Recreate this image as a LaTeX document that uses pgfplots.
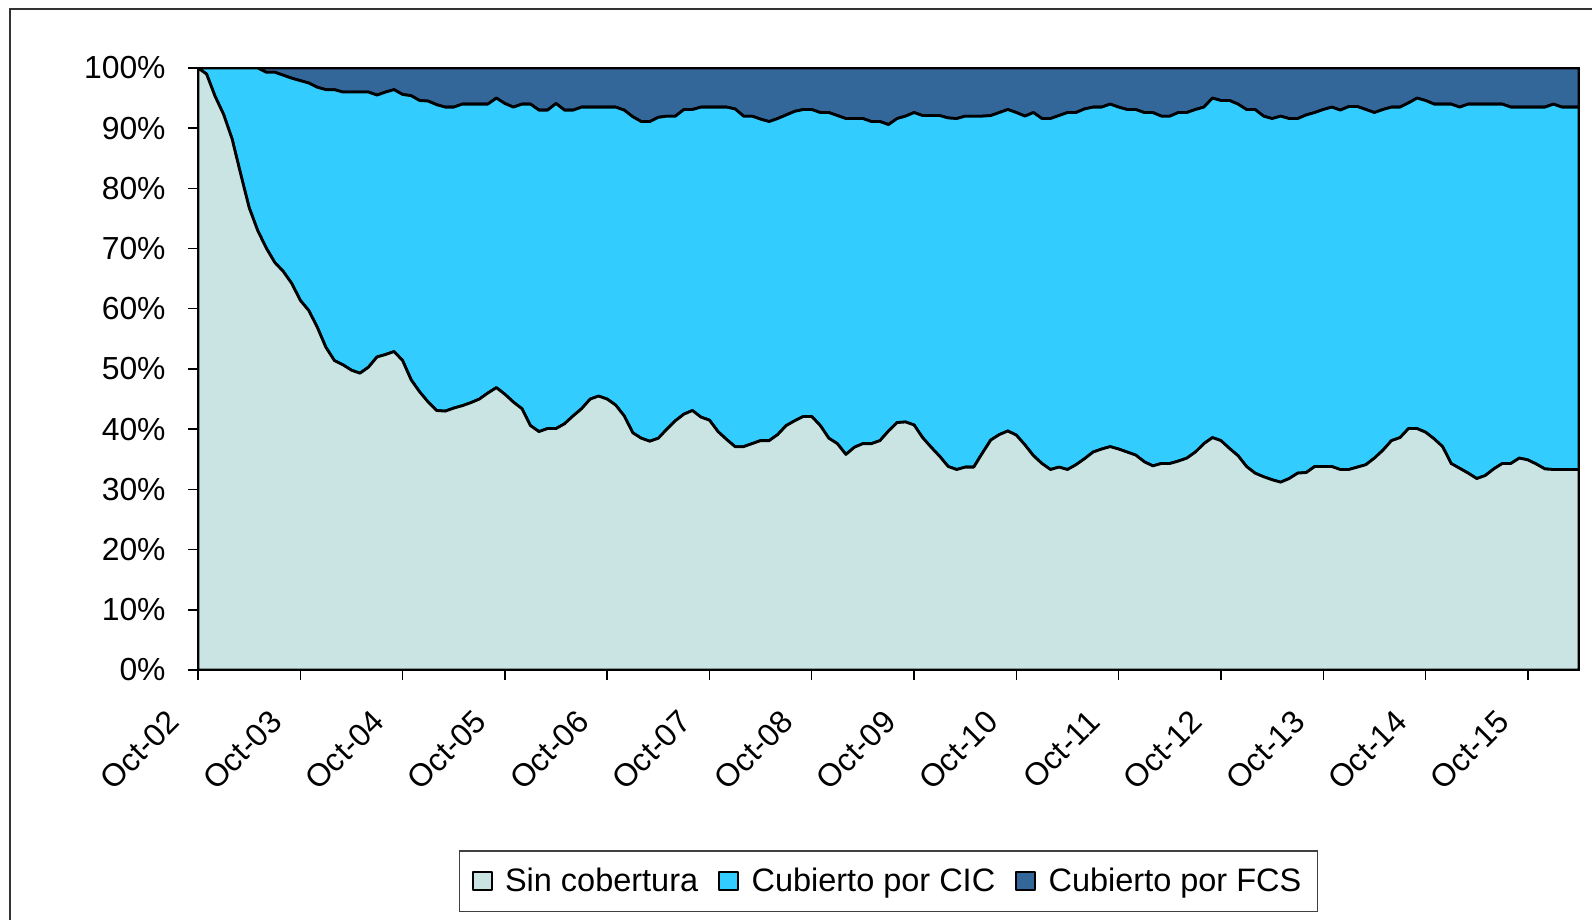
\documentclass[border=0pt]{standalone}
\usepackage{fontspec}
\setmainfont{Liberation Sans}
\usepackage{pgfplots}
\usepackage{pgfplotstable}
\pgfplotsset{compat=1.18}
\definecolor{sincol}{RGB}{202,228,228}
\definecolor{ciccol}{RGB}{51,204,255}
\definecolor{fcscol}{RGB}{51,102,153}

% meses desde oct-02: sin cobertura, cubierto por CIC, cubierto por FCS (%)
\pgfplotstableread{
m sin cic fcs
0 100.0 0.0 0.0
1 99.0 1.0 0.0
2 95.3 4.7 0.0
3 92.3 7.7 0.0
4 88.2 11.8 0.0
5 82.4 17.6 0.0
6 76.8 23.2 0.0
7 73.0 27.0 0.0
8 70.1 29.2 0.7
9 67.7 31.6 0.7
10 66.2 32.6 1.2
11 64.2 34.1 1.7
12 61.4 36.5 2.1
13 59.7 37.8 2.5
14 56.9 39.9 3.2
15 53.6 42.8 3.6
16 51.4 45.0 3.6
17 50.7 45.3 4.0
18 49.8 46.2 4.0
19 49.3 46.7 4.0
20 50.3 45.7 4.0
21 52.0 43.5 4.5
22 52.4 43.6 4.0
23 52.9 43.5 3.6
24 51.4 44.2 4.4
25 48.2 47.2 4.6
26 46.2 48.4 5.4
27 44.5 50.0 5.5
28 43.1 50.8 6.1
29 43.0 50.5 6.5
30 43.5 50.0 6.5
31 43.9 50.1 6.0
32 44.4 49.6 6.0
33 45.0 49.0 6.0
34 46.0 48.0 6.0
35 46.9 48.1 5.0
36 45.8 48.3 5.9
37 44.5 49.0 6.5
38 43.4 50.6 6.0
39 40.6 53.4 6.0
40 39.6 53.4 7.0
41 40.1 52.9 7.0
42 40.1 54.0 5.9
43 40.9 52.1 7.0
44 42.2 50.8 7.0
45 43.4 50.1 6.5
46 45.0 48.5 6.5
47 45.5 48.0 6.5
48 45.0 48.5 6.5
49 44.0 49.5 6.5
50 42.2 50.8 7.0
51 39.4 52.5 8.1
52 38.5 52.6 8.9
53 38.0 53.1 8.9
54 38.5 53.3 8.2
55 40.0 52.0 8.0
56 41.4 50.6 8.0
57 42.5 50.6 6.9
58 43.1 50.0 6.9
59 42.0 51.5 6.5
60 41.5 52.0 6.5
61 39.6 53.9 6.5
62 38.3 55.2 6.5
63 37.1 56.1 6.8
64 37.1 54.9 8.0
65 37.6 54.4 8.0
66 38.1 53.4 8.5
67 38.1 53.0 8.9
68 39.1 52.5 8.4
69 40.6 51.6 7.8
70 41.4 51.4 7.2
71 42.1 51.0 6.9
72 42.1 51.0 6.9
73 40.6 52.0 7.4
74 38.5 54.1 7.4
75 37.6 54.5 7.9
76 35.8 55.8 8.4
77 37.0 54.6 8.4
78 37.6 54.0 8.4
79 37.6 53.5 8.9
80 38.1 53.0 8.9
81 39.7 50.9 9.4
82 41.1 50.5 8.4
83 41.2 50.8 8.0
84 40.7 51.9 7.4
85 38.6 53.5 7.9
86 37.0 55.1 7.9
87 35.5 56.6 7.9
88 33.8 57.9 8.3
89 33.3 58.3 8.4
90 33.7 58.3 8.0
91 33.7 58.3 8.0
92 36.0 56.0 8.0
93 38.2 53.9 7.9
94 39.1 53.5 7.4
95 39.7 53.4 6.9
96 39.0 53.6 7.4
97 37.4 54.6 8.0
98 35.6 57.0 7.4
99 34.3 57.3 8.4
100 33.3 58.3 8.4
101 33.7 58.4 7.9
102 33.3 59.3 7.4
103 34.1 58.5 7.4
104 35.1 58.1 6.8
105 36.2 57.3 6.5
106 36.7 56.8 6.5
107 37.1 56.9 6.0
108 36.7 56.8 6.5
109 36.2 56.9 6.9
110 35.7 57.4 6.9
111 34.6 58.0 7.4
112 33.9 58.7 7.4
113 34.3 57.7 8.0
114 34.3 57.7 8.0
115 34.7 57.9 7.4
116 35.2 57.4 7.4
117 36.2 56.9 6.9
118 37.6 55.9 6.5
119 38.6 56.4 5.0
120 38.1 56.5 5.4
121 36.8 57.8 5.4
122 35.6 58.4 6.0
123 33.8 59.3 6.9
124 32.7 60.4 6.9
125 32.1 59.9 8.0
126 31.6 60.0 8.4
127 31.2 60.8 8.0
128 31.8 59.8 8.4
129 32.7 58.9 8.4
130 32.8 59.4 7.8
131 33.8 58.8 7.4
132 33.8 59.3 6.9
133 33.8 59.7 6.5
134 33.3 59.7 7.0
135 33.3 60.3 6.4
136 33.7 59.9 6.4
137 34.1 59.0 6.9
138 35.2 57.4 7.4
139 36.5 56.6 6.9
140 38.1 55.4 6.5
141 38.6 54.9 6.5
142 40.1 54.1 5.8
143 40.1 54.9 5.0
144 39.5 55.1 5.4
145 38.4 55.6 6.0
146 37.1 56.9 6.0
147 34.3 59.7 6.0
148 33.5 60.0 6.5
149 32.7 61.3 6.0
150 31.8 62.2 6.0
151 32.3 61.7 6.0
152 33.4 60.6 6.0
153 34.3 59.7 6.0
154 34.3 59.2 6.5
155 35.2 58.3 6.5
156 34.9 58.6 6.5
157 34.2 59.3 6.5
158 33.4 60.1 6.5
159 33.3 60.7 6.0
160 33.3 60.2 6.5
161 33.3 60.2 6.5
162 33.3 60.2 6.5
}\datos

\begin{document}
\begin{tikzpicture}
\path[use as bounding box] (-99bp,-125bp) rectangle (697bp,335bp);
\begin{axis}[
    scale only axis,
    width=690.5bp,
    height=301bp,
    xmin=0, xmax=162,
    ymin=0, ymax=100,
    stack plots=y,
    axis on top,
    axis line style={black, line width=1.4bp},
    tick style={black, line width=0.7bp},
    major tick length=5bp,
    tick align=outside,
    xtick pos=bottom,
    ytick pos=left,
    xtick={0,12,...,156},
    xticklabels={Oct-02,Oct-03,Oct-04,Oct-05,Oct-06,Oct-07,Oct-08,Oct-09,Oct-10,Oct-11,Oct-12,Oct-13,Oct-14,Oct-15},
    ytick={0,10,...,100},
    yticklabels={0\%,10\%,20\%,30\%,40\%,50\%,60\%,70\%,80\%,90\%,100\%},
    ticklabel style={font=\fontsize{16}{19}\selectfont},
    yticklabel style={inner sep=0pt, anchor=east, xshift=-11bp},
    xticklabel style={xshift=-12bp, yshift=-18bp, rotate=45, anchor=east, inner sep=0pt},
    legend columns=3,
    legend style={at={(0.5,-0.351)}, anchor=center, draw=black!75, line width=0.7bp,
        font=\fontsize{16.3}{19}\selectfont, inner xsep=6bp, inner ysep=6.5bp,
        /tikz/every even column/.append style={column sep=8bp}},
    legend image code/.code={\draw[#1, draw=black, line width=1bp] (0bp,-4.5bp) rectangle (9.5bp,4.5bp);
        \path (13.5bp,0bp);},
    every axis plot/.append style={draw=black, line width=1.4bp, line join=round},
]
\addplot[fill=sincol] table[x=m, y=sin] {\datos} \closedcycle;
\addplot[fill=ciccol] table[x=m, y=cic] {\datos} \closedcycle;
\addplot[fill=fcscol] table[x=m, y=fcs] {\datos} \closedcycle;
\legend{Sin cobertura, Cubierto por CIC, Cubierto por FCS}
\end{axis}
\draw[black!80, line width=0.75bp] (-94bp,-140bp) -- (-94bp,330.5bp) -- (710bp,330.5bp);
\end{tikzpicture}
\end{document}
